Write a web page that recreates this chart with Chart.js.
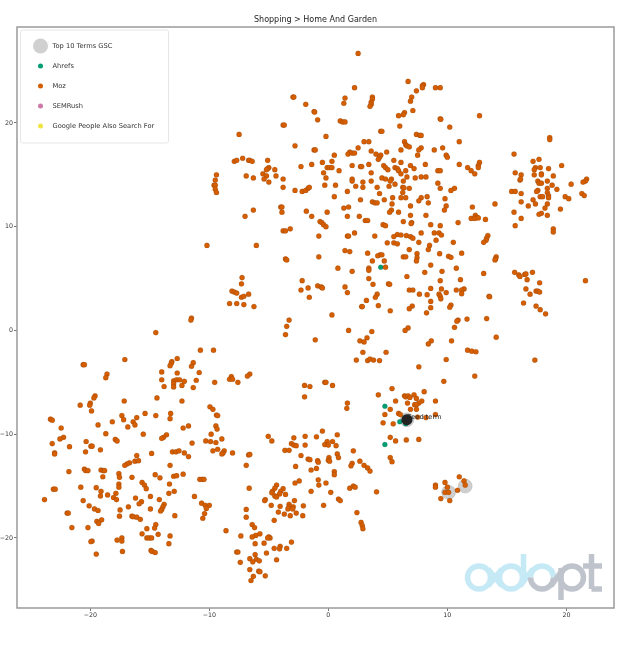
<!DOCTYPE html>
<html>
<head>
<meta charset="utf-8">
<title>Shopping > Home And Garden</title>
<script src="https://cdn.jsdelivr.net/npm/chart.js@4"></script>
<style>
html, body { margin: 0; padding: 0; background: #fff; }
#myChart { display: block; filter: blur(0.35px); }
</style>
</head>
<body>
<canvas id="myChart" width="639" height="671"></canvas>
<script>
var chartTitle = 'Shopping > Home And Garden';
var xTicks = [-20, -10, 0, 10, 20];
var yTicks = [-20, -10, 0, 10, 20];
var legendNames = ['Top 10 Terms GSC', 'Ahrefs', 'Moz', 'SEMRush', 'Google People Also Search For'];
var seedName = 'Seed term';

var top10Points = [[6.6, -8.6], [11.5, -15.0], [10.1, -15.6]];
var seedPoints = [[6.6, -8.6]];
var ahrefsPoints = [[4.4, 6.1], [4.75, -7.3], [6.0, -8.8], [6.5, -9.0], [4.75, -11.0]];
var semrushPoints = [];
var paaPoints = [];
var mozPoints = [
    [-2.97, 22.5], [-2.9, 22.5], [-1.9, 21.8], [-1.2, 21.1], [-1.15, 21.05], [-0.9, 20.3], [-3.8, 19.8], [-3.7, 19.8], [-7.5, 18.9], [-2.8, 17.8],
    [-1.2, 17.4], [-1.1, 17.4], [-1.4, 16.0], [-2.3, 15.8], [-5.1, 16.4], [-7.2, 16.6], [-6.7, 16.4], [-6.6, 16.4], [-6.4, 16.3], [-7.9, 16.3],
    [-7.7, 16.4], [-4.5, 15.5], [-5.0, 15.7], [-5.1, 15.6], [-5.2, 15.5], [-5.5, 15.1], [-5.2, 14.9], [-4.4, 14.9], [-6.9, 14.9], [-6.3, 14.7],
    [-5.4, 14.6], [-5.0, 14.3], [-3.8, 14.6], [-9.4, 15.0], [-9.5, 14.5], [-9.6, 14.0], [-9.5, 14.0], [-9.5, 13.6], [-9.4, 13.3], [-3.8, 13.8],
    [-2.8, 13.5], [-2.2, 13.4], [-1.9, 13.5], [-1.7, 13.7], [-1.6, 13.8], [-4.0, 11.9], [-3.9, 11.9], [-3.9, 11.4], [-6.3, 11.6], [-7.0, 11.0],
    [-1.85, 11.5], [-1.4, 11.0], [-3.2, 9.8], [-3.8, 9.6], [-3.6, 9.6], [-0.8, 9.1], [-0.7, 10.5], [-10.2, 8.2], [-6.05, 8.2], [-3.6, 6.9],
    [-3.5, 6.8], [-0.8, 7.1], [-7.25, 5.1], [-7.3, 4.5], [-8.1, 3.8], [-7.9, 3.7], [-7.7, 3.6], [-6.7, 3.5], [-7.3, 3.2], [-7.1, 3.3],
    [-8.3, 2.6], [-7.7, 2.6], [-7.1, 2.5], [-6.25, 2.3], [-2.2, 4.8], [-1.7, 4.1], [-2.3, 3.9], [-0.9, 4.3], [-1.6, 3.2], [-3.3, 1.0],
    [-3.5, 0.4], [-3.6, -0.4], [-1.1, -0.9], [-11.5, 1.2], [-11.55, 1.0], [-14.5, -0.2],
    [2.5, 26.7], [6.7, 24.0], [2.2, 23.4], [8.0, 23.7], [7.9, 23.6], [7.9, 23.4], [7.4, 23.1], [9.0, 23.4], [9.4, 23.4], [7.0, 22.5],
    [6.9, 22.1], [1.4, 22.4], [1.3, 21.9], [3.7, 22.5], [3.7, 22.3], [3.6, 22.0], [3.6, 21.8], [3.5, 21.6], [7.1, 21.2], [6.4, 21.0],
    [6.3, 20.8], [5.9, 20.7], [9.4, 20.4], [9.45, 20.35], [12.7, 20.7], [1.0, 20.2], [1.2, 20.1], [1.4, 20.1], [6.0, 19.7], [10.2, 19.6],
    [4.4, 19.2], [4.5, 19.2], [7.4, 18.9], [7.7, 18.8], [7.8, 18.8], [-0.2, 18.7], [11.0, 18.2], [18.6, 18.6], [18.6, 18.4], [6.4, 18.2],
    [6.5, 17.9], [6.6, 17.8], [6.8, 17.7], [3.0, 18.2], [3.4, 18.2], [2.5, 17.6], [7.8, 17.6], [7.6, 17.4], [6.1, 17.4], [8.9, 17.4],
    [9.6, 17.6], [3.6, 17.3], [4.9, 17.2], [0.5, 16.9], [1.8, 17.2], [1.65, 17.0], [2.0, 17.1], [2.2, 17.1], [4.0, 17.0], [4.4, 16.9],
    [4.3, 16.7], [4.2, 16.5], [7.5, 16.9], [9.9, 16.9], [10.0, 16.7], [15.6, 17.0], [0.3, 16.3], [-0.5, 16.2], [17.7, 16.5], [17.2, 16.3],
    [5.5, 16.4], [6.1, 16.2], [12.7, 16.2], [12.6, 15.9], [12.6, 15.7], [11.0, 16.0], [19.6, 15.9], [2.0, 15.9], [2.7, 15.8], [2.8, 15.8],
    [3.4, 16.0], [4.65, 15.9], [4.8, 15.7], [5.0, 15.5], [5.6, 15.7], [5.8, 15.6], [5.9, 15.4], [6.1, 15.1], [6.9, 15.9], [7.2, 15.6],
    [8.15, 16.0], [-0.1, 15.7], [0.1, 15.7], [0.3, 15.7], [11.7, 15.7], [0.9, 15.4], [3.6, 15.2], [6.5, 15.4], [9.2, 15.4], [9.4, 15.4],
    [12.0, 15.4], [12.3, 15.1], [17.4, 15.7], [17.8, 15.7], [17.3, 15.5], [18.5, 15.6], [15.7, 15.2], [16.2, 15.0], [17.3, 15.0], [17.9, 15.1],
    [17.9, 15.0], [18.9, 14.9], [-0.4, 15.2], [-0.2, 14.7], [6.6, 14.8], [7.3, 14.7], [7.8, 14.8], [8.2, 14.8], [4.5, 14.7], [4.8, 14.6],
    [5.3, 14.6], [5.2, 14.4], [2.0, 14.6], [2.0, 14.4], [2.9, 14.3], [3.6, 14.4], [6.3, 14.4], [16.1, 14.5], [16.15, 14.6], [17.6, 14.4],
    [17.7, 14.2], [17.9, 14.2], [18.4, 14.4], [21.7, 14.6], [21.6, 14.4], [21.4, 14.3], [20.4, 14.1], [-0.3, 14.0], [0.6, 14.0], [2.3, 13.9],
    [2.9, 13.8], [5.6, 14.1], [5.1, 13.9], [4.1, 13.8], [9.2, 14.2], [9.4, 13.7], [18.8, 14.0], [6.25, 13.8], [6.35, 13.75], [6.8, 13.7],
    [18.4, 13.7], [19.2, 13.6], [10.6, 13.7], [10.3, 13.5], [1.6, 13.4], [4.3, 13.2], [6.25, 13.3], [17.6, 13.5], [17.5, 13.4], [15.4, 13.4],
    [15.7, 13.4], [16.2, 13.2], [18.4, 13.3], [18.5, 13.0], [18.5, 12.8], [21.3, 13.2], [21.5, 13.0], [0.5, 12.9], [6.1, 12.8], [6.5, 12.8],
    [5.4, 12.8], [8.3, 12.9], [7.8, 12.8], [7.6, 12.5], [2.7, 12.6], [4.7, 12.6], [9.8, 12.7], [17.8, 12.9], [18.0, 12.9], [19.9, 12.9],
    [20.2, 12.7], [17.2, 12.6], [17.4, 12.2], [16.2, 12.4], [3.7, 12.4], [3.9, 12.3], [4.1, 12.3], [8.4, 12.3], [14.0, 12.2], [5.35, 12.2],
    [6.9, 12.0], [9.9, 12.0], [18.4, 12.2], [16.8, 12.0], [18.2, 11.8], [1.3, 11.8], [1.7, 11.9], [12.1, 11.9], [5.3, 11.6], [5.15, 11.4],
    [5.9, 11.4], [-0.1, 11.4], [9.75, 11.6], [19.5, 11.7], [15.6, 11.4], [17.9, 11.3], [17.7, 11.2], [18.4, 11.1], [12.35, 11.1], [12.5, 10.9],
    [12.0, 10.8], [12.3, 10.8], [12.6, 10.85], [6.9, 11.1], [8.2, 11.1], [1.6, 11.0], [2.6, 11.0], [16.2, 10.8], [3.1, 10.6], [3.3, 10.6],
    [6.3, 10.5], [7.0, 10.4], [6.95, 10.3], [10.9, 10.4], [13.2, 10.7], [-0.55, 10.4], [-0.4, 10.2], [-0.2, 10.0], [4.6, 10.2], [4.8, 10.1],
    [8.6, 10.2], [9.4, 10.1], [15.7, 10.1], [18.9, 9.8], [18.9, 9.5], [2.2, 9.4], [7.8, 9.4], [8.9, 9.4], [9.3, 9.4], [9.5, 9.2],
    [5.8, 9.25], [6.1, 9.2], [6.55, 9.15], [6.9, 9.05], [7.1, 8.9], [5.5, 9.05], [3.9, 9.1], [1.6, 9.1], [1.7, 9.1], [13.4, 9.15],
    [13.3, 8.9], [9.05, 8.7], [10.5, 8.5], [4.95, 8.45], [5.5, 8.45], [5.8, 8.35], [7.6, 8.5], [13.25, 8.7], [13.05, 8.5], [8.5, 8.2],
    [8.4, 7.8], [1.4, 7.7], [1.8, 7.6], [6.8, 7.8], [3.3, 7.45], [4.35, 7.3], [4.15, 7.2], [4.5, 7.3], [9.35, 7.4], [11.2, 7.45],
    [7.45, 7.4], [7.45, 7.0], [7.4, 6.7], [6.3, 7.1], [6.5, 7.1], [10.1, 7.15], [10.3, 7.05], [14.1, 7.1], [14.05, 6.9], [14.0, 6.8],
    [3.7, 6.7], [4.7, 6.7], [8.6, 6.3], [4.8, 6.1], [3.4, 6.0], [3.4, 5.8], [0.8, 6.0], [2.0, 5.7], [10.75, 6.0], [8.1, 5.6],
    [9.55, 5.7], [13.05, 5.5], [15.65, 5.6], [16.0, 5.35], [16.1, 5.2], [16.5, 5.4], [16.6, 5.45], [17.15, 5.6], [6.6, 5.2], [3.4, 5.0],
    [9.4, 4.8], [11.1, 4.9], [21.6, 4.8], [16.7, 4.9], [3.75, 4.45], [5.05, 4.5], [5.15, 4.45], [17.75, 4.6], [-0.6, 4.2], [-0.5, 4.1],
    [1.4, 4.2], [8.6, 4.05], [6.8, 3.9], [7.1, 3.9], [9.5, 4.0], [11.4, 4.0], [11.2, 3.9], [10.75, 3.9], [16.6, 4.0], [17.45, 3.8],
    [17.6, 3.8], [17.75, 3.7], [1.6, 3.65], [4.1, 3.5], [16.95, 3.5], [7.65, 3.5], [8.3, 3.45], [9.3, 3.5], [9.4, 3.3], [9.45, 3.05],
    [9.9, 3.65], [11.2, 3.55], [3.95, 3.2], [13.5, 3.3], [13.55, 3.25], [3.2, 2.9], [8.6, 2.8], [16.4, 2.65], [2.8, 2.3], [2.85, 2.3],
    [4.2, 2.4], [10.3, 2.45], [10.2, 2.25], [7.05, 2.35], [6.8, 2.1], [8.6, 2.2], [17.45, 2.35], [17.8, 2.0], [5.2, 1.9], [8.25, 1.7],
    [18.25, 1.6], [0.3, 1.5], [10.9, 1.0], [10.8, 0.9], [11.65, 1.1], [13.3, 1.15], [10.6, 0.3], [6.7, 0.25], [6.45, 0], [1.7, 0],
    [3.65, -0.1], [14.1, -0.65],
    [3.25, -0.7], [2.65, -1.0], [3.0, -1.1], [8.65, -1.0], [8.4, -1.3], [10.35, -1.0], [11.7, -1.9], [12.05, -2.0], [12.4, -2.05], [2.9, -2.1],
    [4.85, -2.1], [9.9, -2.8], [2.35, -2.85], [3.3, -2.9], [3.5, -2.75], [3.8, -2.85], [4.3, -2.9], [17.35, -2.85], [7.6, -3.5], [12.3, -4.4],
    [9.7, -4.9], [-0.3, -5.0], [-0.2, -5.0], [0.35, -5.3], [8.05, -5.9], [4.2, -6.2], [5.35, -5.6], [7.2, -6.2], [6.4, -6.3], [6.5, -6.4],
    [6.7, -6.3], [6.85, -6.45], [7.4, -6.55], [7.85, -6.8], [7.6, -7.0], [5.65, -6.8], [9.0, -6.8], [6.65, -7.0], [7.25, -7.15], [7.4, -7.15],
    [1.6, -7.0], [1.55, -7.5], [5.2, -7.6], [6.9, -7.6], [7.4, -7.6], [5.9, -8.0], [6.05, -8.1], [4.75, -8.1], [9.0, -8.1], [7.5, -8.35],
    [8.2, -8.4], [4.6, -8.9], [5.45, -9.0], [-0.5, -9.7], [0.75, -10.05], [5.2, -10.3], [5.65, -10.65], [6.55, -10.55], [7.6, -10.5], [0.35, -10.7],
    [-0.1, -10.7], [-0.3, -11.0], [0, -11.05], [0.65, -11.1], [2.1, -11.6], [0.75, -11.9], [0.85, -12.25], [0.05, -12.25], [0, -12.5], [0.1, -12.6],
    [5.2, -12.25], [5.35, -12.65], [2.65, -12.6], [2.0, -12.8], [1.9, -13.05], [3.0, -13.0], [3.3, -13.25], [3.5, -13.55], [0.5, -13.6], [0.5, -13.9],
    [11.0, -14.1], [11.4, -14.5], [9.8, -14.65], [9.0, -14.9], [9.0, -15.1], [11.5, -14.9], [10.0, -15.1], [10.85, -15.4], [9.8, -15.6], [10.1, -15.6],
    [9.45, -16.2], [10.2, -16.4], [-0.2, -14.7], [1.8, -15.2], [2.1, -15.0], [2.25, -15.1], [0.2, -15.6], [4.05, -15.55], [0.85, -16.25], [1.0, -16.4],
    [-0.4, -16.85], [2.4, -17.55], [2.75, -18.5], [2.85, -18.8], [2.9, -19.1],
    [-10.75, -1.9], [-9.65, -1.9], [-12.7, -2.7], [-17.1, -2.8], [-13.15, -3.0], [-13.2, -3.15], [-13.3, -3.4], [-11.35, -3.1], [-11.5, -3.45], [-20.6, -3.3],
    [-20.5, -3.3], [-14.0, -4.0], [-10.85, -4.05], [-12.7, -4.1], [-18.6, -4.2], [-18.7, -4.55], [-8.15, -4.45], [-6.6, -4.2], [-6.8, -4.4], [-8.3, -4.7],
    [-8.05, -4.7], [-14.0, -4.75], [-13.0, -4.85], [-12.75, -4.75], [-12.5, -4.75], [-12.1, -4.9], [-11.1, -4.8], [-9.55, -5.0], [-7.6, -5.0], [-13.0, -5.15],
    [-13.0, -5.45], [-13.8, -5.4], [-12.3, -5.3], [-11.35, -5.5], [-2.0, -5.3], [-1.55, -5.4], [-2.0, -6.4], [-19.6, -6.3], [-19.7, -6.5], [-14.4, -6.5],
    [-12.3, -6.8], [-17.15, -6.8], [-20.0, -7.0], [-20.05, -7.2], [-20.85, -7.2], [-9.95, -7.35], [-9.7, -7.6], [-19.9, -7.75], [-13.25, -8.0], [-15.4, -8.0],
    [-9.4, -8.15], [-9.3, -8.2], [-17.35, -8.2], [-14.5, -8.2], [-16.1, -8.4], [-23.35, -8.55], [-23.2, -8.65], [-17.2, -8.6], [-13.3, -8.5], [-18.15, -8.8],
    [-16.4, -8.8], [-16.25, -9.1], [-19.35, -9.1], [-16.85, -9.3], [-11.75, -9.2], [-12.2, -9.4], [-9.45, -9.2], [-9.35, -9.5], [-22.45, -9.4], [-9.85, -10.0],
    [-18.7, -9.95], [-15.55, -10.0], [-13.6, -10.05], [-13.85, -10.3], [-14.0, -10.4], [-22.25, -10.3], [-22.55, -10.45], [-17.9, -10.5], [-17.75, -10.65], [-8.95, -10.45],
    [-5.05, -10.2], [-4.75, -10.65], [-2.9, -10.35], [-1.95, -10.2], [-1.0, -10.25], [-10.3, -10.65], [-9.9, -10.7], [-9.45, -10.8], [-20.35, -10.7], [-11.45, -10.85],
    [-23.2, -10.9], [-3.1, -10.9], [-2.9, -11.05], [-2.7, -11.1], [-1.95, -11.05], [-21.75, -11.2], [-19.95, -11.15], [-19.85, -11.15], [-19.15, -11.5], [-9.3, -11.45],
    [-9.7, -11.6], [-8.75, -11.6], [-8.85, -11.8], [-8.95, -11.9], [-3.65, -11.55], [-3.3, -11.55], [-13.1, -11.7], [-12.8, -11.7], [-12.55, -11.6], [-8.05, -11.8],
    [-20.4, -11.7], [-12.1, -11.8], [-14.85, -11.85], [-23.0, -11.8], [-23.0, -11.9], [-6.7, -12.0], [-6.6, -11.95], [-16.1, -12.05], [-11.75, -12.15], [-2.3, -12.05],
    [-1.7, -12.4], [-1.55, -12.45], [-0.9, -12.55], [-0.85, -12.7], [-16.7, -12.75], [-16.9, -12.85], [-17.1, -13.0], [-16.25, -12.6], [-15.95, -12.55], [-13.3, -13.0],
    [-6.9, -13.0], [-2.75, -13.1], [-1.0, -13.3], [-1.45, -13.45], [-20.5, -13.35], [-20.4, -13.5], [-20.2, -13.5], [-19.1, -13.45], [-18.9, -13.5], [-18.8, -13.5],
    [-21.8, -13.6], [-17.6, -13.8], [-14.55, -13.9], [-13.0, -14.05], [-12.75, -14.0], [-12.2, -13.85], [-17.55, -14.15], [-18.95, -14.1], [-16.5, -14.15], [-14.15, -14.2],
    [-10.8, -14.35], [-10.6, -14.35], [-10.45, -14.35], [-0.85, -14.4], [-2.45, -14.5], [-2.8, -14.7], [-15.65, -14.65], [-15.45, -14.9], [-15.3, -15.25], [-17.6, -14.8],
    [-17.6, -15.1], [-13.35, -14.8], [-4.35, -14.9], [-4.5, -15.2], [-4.7, -15.5], [-0.8, -14.9], [-19.5, -15.15], [-20.8, -15.1], [-23.1, -15.3], [-22.95, -15.3],
    [-6.65, -15.2], [-3.8, -15.25], [-4.0, -15.5], [-4.1, -15.75], [-12.95, -15.5], [-19.1, -15.5], [-1.45, -15.5], [-13.4, -15.7], [-17.85, -15.7], [-18.55, -15.85],
    [-3.6, -15.8], [-19.15, -15.95], [-4.75, -15.65], [-4.5, -15.95], [-4.35, -16.05], [-14.95, -16.0], [-11.25, -16.0], [-16.2, -16.15], [-18.05, -16.1], [-17.8, -16.3],
    [-14.2, -16.3], [-23.85, -16.3], [-20.6, -16.4], [-5.3, -16.3], [-5.35, -16.4], [-2.85, -16.4], [-15.7, -16.5], [-15.9, -16.7], [-13.8, -16.75], [-13.9, -17.0],
    [-14.0, -17.25], [-14.1, -17.4], [-10.65, -16.65], [-10.35, -16.85], [-10.0, -16.85], [-10.25, -17.15], [-20.1, -16.9], [-16.8, -17.0], [-4.8, -16.85], [-4.05, -16.95],
    [-3.3, -16.75], [-3.3, -17.0], [-2.95, -17.0], [-3.4, -17.2], [-3.0, -17.2], [-2.1, -16.9], [-14.95, -17.2], [-19.65, -17.2], [-19.35, -17.35], [-6.9, -17.25],
    [-17.5, -17.3], [-4.2, -17.5], [-2.7, -17.6], [-21.95, -17.6], [-21.85, -17.6], [-3.7, -17.7], [-10.4, -17.65], [-3.2, -17.85], [-2.15, -17.85], [-17.55, -17.9],
    [-12.9, -17.85], [-16.5, -17.9], [-16.4, -17.95], [-16.1, -18.0], [-15.8, -18.2], [-6.9, -18.0], [-10.55, -18.1], [-4.55, -18.3], [-19.05, -18.25], [-19.45, -18.4],
    [-19.3, -18.6], [-14.5, -18.7], [-14.6, -19.05], [-15.25, -19.1], [-6.4, -18.7], [-6.2, -19.0], [-20.2, -19.0], [-21.55, -19.0], [-8.6, -19.3], [-5.75, -19.6],
    [-6.1, -19.75], [-6.4, -19.9], [-7.35, -19.8], [-15.65, -19.6], [-14.3, -19.65], [-13.3, -19.8], [-5.0, -19.9], [-4.9, -20.0], [-5.1, -20.0], [-15.25, -20.0],
    [-15.05, -20.0], [-14.85, -20.0], [-17.35, -20.0], [-17.75, -20.2], [-17.35, -20.3], [-19.85, -20.3], [-19.95, -20.35], [-3.1, -20.4], [-13.4, -20.55], [-6.15, -20.55],
    [-5.4, -20.5], [-4.05, -20.8], [-4.1, -21.05], [-4.55, -21.0], [-3.5, -21.0], [-14.9, -21.2], [-14.8, -21.3], [-14.55, -21.4], [-17.3, -21.3], [-19.5, -21.55],
    [-7.7, -21.35], [-7.6, -21.35], [-5.2, -21.45], [-6.15, -21.6], [-6.6, -22.0], [-6.05, -22.05], [-5.8, -22.2], [-6.35, -22.3], [-4.35, -22.1], [-7.4, -22.35],
    [-6.6, -23.05], [-5.85, -23.2], [-5.75, -23.25], [-5.3, -23.65], [-6.3, -23.7], [-6.5, -24.1]
];

var colors = { top10: '#d0d0d0', ahrefs: '#009E73', moz: '#D55E00', semrush: '#CC79A7', paa: '#F0E442', seed: '#222222' };
var fontFamily = "'DejaVu Sans', sans-serif";

function toXY(list) {
    return list.map(function (p) { return { x: p[0], y: p[1] }; });
}

function tickText(value) {
    return String(value).replace('-', '\u2212');
}

// title is centred over the plot, not over the whole canvas
var centerTitle = {
    id: 'centerTitle',
    afterLayout: function (chart) {
        chart.titleBlock.left = chart.chartArea.left;
        chart.titleBlock.right = chart.chartArea.right;
    }
};

// gray spines on all four sides, matplotlib style
var frame = {
    id: 'frame',
    afterDatasetsDraw: function (chart) {
        var a = chart.chartArea, ctx = chart.ctx;
        ctx.save();
        ctx.strokeStyle = '#9a9a9a';
        ctx.lineWidth = 1.5;
        ctx.strokeRect(a.left, a.top, a.right - a.left, a.bottom - a.top);
        ctx.restore();
    }
};

var seedLabel = {
    id: 'seedLabel',
    afterDatasetsDraw: function (chart) {
        var ctx = chart.ctx;
        ctx.save();
        ctx.fillStyle = '#222';
        ctx.font = '6.7px ' + fontFamily;
        ctx.textBaseline = 'middle';
        ctx.fillText(seedName, chart.scales.x.getPixelForValue(seedPoints[0][0]), chart.scales.y.getPixelForValue(seedPoints[0][1]) - 2);
        ctx.restore();
    }
};

var legendBox = {
    id: 'legendBox',
    afterDatasetsDraw: function (chart) {
        var ctx = chart.ctx;
        var swatches = [[colors.top10, 7.5], [colors.ahrefs, 2.5], [colors.moz, 2.5], [colors.semrush, 2.5], [colors.paa, 2.5]];
        ctx.save();
        ctx.fillStyle = '#fff';
        ctx.strokeStyle = '#e6e6e6';
        ctx.lineWidth = 1;
        ctx.beginPath();
        ctx.roundRect(20.5, 30, 148, 113, 2);
        ctx.fill();
        ctx.stroke();
        ctx.font = '6.7px ' + fontFamily;
        ctx.textBaseline = 'middle';
        legendNames.forEach(function (name, i) {
            var y = 46 + i * 20;
            ctx.fillStyle = swatches[i][0];
            ctx.beginPath();
            ctx.arc(40.5, y, swatches[i][1], 0, Math.PI * 2);
            ctx.fill();
            ctx.fillStyle = '#333';
            ctx.fillText(name, 52.5, y);
        });
        ctx.restore();
    }
};

// adapt watermark, bottom right of the plot
var logo = {
    id: 'logo',
    afterDatasetsDraw: function (chart) {
        var ctx = chart.ctx, blue = '#c6e9f6', grey = '#bfc3cb', cy = 577.5, r = 11.5;
        function ring(cx, color, from, to) {
            ctx.strokeStyle = color;
            ctx.beginPath();
            ctx.arc(cx, cy, r, from, to);
            ctx.stroke();
        }
        function bar(color, x1, y1, x2, y2) {
            ctx.strokeStyle = color;
            ctx.beginPath();
            ctx.moveTo(x1, y1);
            ctx.lineTo(x2, y2);
            ctx.stroke();
        }
        ctx.save();
        ctx.lineWidth = 5.5;
        ring(479, blue, 0, Math.PI * 2);
        ring(511, blue, 0, Math.PI * 2);
        ring(542, blue, Math.PI, Math.PI * 2);
        bar(blue, 488, 569, 502, 586);
        bar(blue, 488, 586, 502, 569);
        bar(blue, 520, 586, 533, 569);
        bar(blue, 520, 569, 527, 577);
        bar(blue, 523.5, 554, 523.5, 575);
        bar(blue, 551, 569, 553, 575);
        ring(542, grey, 0, Math.PI);
        ring(572, grey, 0, Math.PI * 2);
        bar(grey, 551, 586, 563, 569);
        bar(grey, 561, 568, 561, 600);
        bar(grey, 591.5, 554, 591.5, 589);
        bar(grey, 583, 566, 602, 566);
        bar(grey, 591.5, 589, 602, 589);
        ctx.restore();
    }
};

var ctx = document.getElementById('myChart').getContext('2d');

var myChart = new Chart(ctx, {
    type: 'scatter',
    data: {
        datasets: [
            { label: legendNames[0], data: toXY(top10Points), backgroundColor: colors.top10, pointRadius: 7, order: 5 },
            { label: legendNames[1], data: toXY(ahrefsPoints), backgroundColor: colors.ahrefs, pointRadius: 2.5, order: 4 },
            { label: legendNames[2], data: toXY(mozPoints), backgroundColor: colors.moz, pointRadius: 2.6, order: 3 },
            { label: legendNames[3], data: toXY(semrushPoints), backgroundColor: colors.semrush, pointRadius: 2.5, order: 2 },
            { label: legendNames[4], data: toXY(paaPoints), backgroundColor: colors.paa, pointRadius: 2.5, order: 1 },
            { label: seedName, data: toXY(seedPoints), backgroundColor: colors.seed, pointRadius: 5.5, order: 0 }
        ]
    },
    options: {
        responsive: false,
        animation: false,
        layout: { padding: { left: 0, right: 25, top: 0, bottom: 0 } },
        plugins: {
            title: {
                display: true,
                text: chartTitle,
                color: '#222',
                font: { size: 8, family: fontFamily, weight: 'normal', lineHeight: 1 },
                padding: { top: 15.5, bottom: 3.5 }
            },
            legend: { display: false },
            tooltip: { enabled: false }
        },
        scales: {
            x: {
                min: -26.16,
                max: 24.0,
                afterFit: function (scale) { scale.height = 63; },
                afterBuildTicks: function (scale) { scale.ticks = xTicks.map(function (v) { return { value: v }; }); },
                grid: { drawOnChartArea: false, tickLength: 3, color: '#555', lineWidth: 0.8 },
                border: { display: false },
                ticks: {
                    color: '#333',
                    padding: 1,
                    maxRotation: 0,
                    font: { size: 6.3, family: fontFamily },
                    callback: tickText
                }
            },
            y: {
                min: -26.75,
                max: 29.25,
                afterFit: function (scale) { scale.width = 17; },
                afterBuildTicks: function (scale) { scale.ticks = yTicks.map(function (v) { return { value: v }; }); },
                grid: { drawOnChartArea: false, tickLength: 3, color: '#555', lineWidth: 0.8 },
                border: { display: false },
                ticks: {
                    color: '#333',
                    padding: 1,
                    font: { size: 6.3, family: fontFamily },
                    callback: tickText
                }
            }
        }
    },
    plugins: [centerTitle, legendBox, logo, frame, seedLabel]
});
</script>
</body>
</html>
